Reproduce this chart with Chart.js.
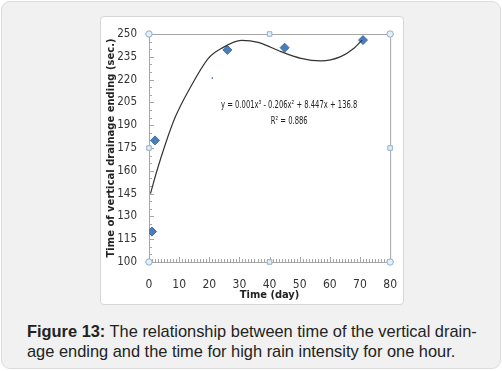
<!DOCTYPE html>
<html>
<head>
<meta charset="utf-8">
<title>Figure 13</title>
<script src="https://cdn.jsdelivr.net/npm/chart.js"></script>
<style>
  html, body { margin: 0; padding: 0; background: #fff; }
  #outer {
    position: absolute; left: 1px; top: 1px; width: 498px; height: 366px;
    background: #f1f1f1; border: 1px solid #dcdcdc; border-radius: 9px;
  }
  #panel {
    position: absolute; left: 98px; top: 14px; width: 302px; height: 287px;
    background: #fff; border: 1px solid #d6d6d6; border-radius: 4px;
  }
  #chart { position: absolute; left: 0; top: 0; }
  #caption {
    position: absolute; left: 25px; top: 319px; width: 480px;
    font-family: "Liberation Sans", Arial, sans-serif; font-size: 16.4px;
    line-height: 20px; color: #222;
  }
</style>
</head>
<body>
<div id="outer">
  <div id="panel"><canvas id="chart" width="304" height="287"></canvas></div>
  <div id="caption"><b>Figure 13:</b> The relationship between time of the vertical drain-<br>age ending and the time for high rain intensity for one hour.</div>
</div>
<script>
// measured points (day, sec)
const days = [1, 2, 26, 45, 71];
const drainTimes = [120, 180, 239.5, 241, 246];

// stray dot in the source figure
const strayDot = [{ x: 21, y: 221 }];

// trend line
const trendX = [0.5, 2.7, 5.5, 8.75, 13.2, 19.7, 24.1, 30.7, 36.2, 43.8, 50.4, 57, 63.6, 68, 70.7];
const trendY = [145, 160.5, 178, 195.5, 213, 234, 240.6, 245.8, 244.5, 238.4, 234, 232.3, 235.1, 240.6, 246];

// selection handles around the plot frame
const handleX = [0, 40, 80, 80, 80, 40, 0, 0];
const handleY = [250, 250, 250, 175, 100, 100, 100, 175];
const handleStyle = ['circle', 'rect', 'circle', 'rect', 'circle', 'rect', 'circle', 'rect'];

const xTicks = [0, 10, 20, 30, 40, 50, 60, 70, 80];
const yTicks = [100, 115, 130, 145, 160, 175, 190, 205, 220, 235, 250];

const equation = 'y = 0.001x\u00B3 - 0.206x\u00B2 + 8.447x + 136.8';
const rSquared = 'R\u00B2 = 0.886';

const narrow = "'DejaVu Sans Condensed', 'Liberation Sans Narrow', Arial, sans-serif";

const framePlugin = {
  id: 'frame',
  beforeDatasetsDraw(chart) {
    const { ctx, chartArea: a, scales: { x, y } } = chart;
    ctx.save();
    ctx.strokeStyle = '#a6a6a6';
    ctx.lineWidth = 1;
    ctx.strokeRect(a.left + 0.5, a.top + 0.5, a.right - a.left, a.bottom - a.top);
    // inward tick marks
    ctx.beginPath();
    for (let v = 0; v <= 80; v++) {
      const px = Math.round(x.getPixelForValue(v)) + 0.5;
      const len = v % 10 === 0 ? 5 : 3;
      ctx.moveTo(px, a.bottom);
      ctx.lineTo(px, a.bottom - len);
    }
    for (let v = 100; v <= 250; v += 5) {
      const py = Math.round(y.getPixelForValue(v)) + 0.5;
      const len = v % 15 === 10 ? 5 : 3;
      ctx.moveTo(a.left, py);
      ctx.lineTo(a.left + len, py);
    }
    ctx.stroke();
    // trend line label, squeezed like the source
    ctx.fillStyle = '#222';
    ctx.font = '10.5px ' + narrow;
    ctx.textAlign = 'center';
    ctx.textBaseline = 'middle';
    const ex = x.getPixelForValue(46.5);
    ctx.translate(ex, 0);
    ctx.scale(0.72, 1);
    ctx.fillText(equation, 0, y.getPixelForValue(203));
    ctx.fillText(rSquared, 0, y.getPixelForValue(192.5));
    ctx.restore();
  }
};

new Chart(document.getElementById('chart'), {
  type: 'scatter',
  data: {
    datasets: [{
      label: 'Trend',
      data: trendX.map((v, i) => ({ x: v, y: trendY[i] })),
      showLine: true,
      borderColor: '#333',
      borderWidth: 1.2,
      tension: 0.4,
      cubicInterpolationMode: 'monotone',
      pointRadius: 0
    }, {
      label: 'Time of drainage',
      data: days.map((v, i) => ({ x: v, y: drainTimes[i] })),
      pointStyle: 'rectRot',
      pointRadius: 4.5,
      backgroundColor: '#4a7ebb',
      borderColor: '#3f6fa8',
      borderWidth: 1
    }, {
      label: 'Stray',
      data: strayDot,
      pointRadius: 0.8,
      backgroundColor: '#3355aa',
      borderWidth: 0
    }, {
      label: 'Handles',
      data: handleX.map((v, i) => ({ x: v, y: handleY[i] })),
      pointStyle: handleStyle,
      pointRadius: 3.2,
      backgroundColor: '#e4eef7',
      borderColor: '#8fb0cc',
      borderWidth: 1,
      clip: false
    }]
  },
  options: {
    responsive: false,
    animation: false,
    events: [],
    layout: { padding: { top: 17, right: 0, left: 0, bottom: 0 } },
    plugins: { legend: { display: false }, tooltip: { enabled: false } },
    scales: {
      x: {
        type: 'linear', min: 0, max: 80,
        afterBuildTicks: s => { s.ticks = xTicks.map(v => ({ value: v })); },
        afterFit: s => { s.height = 42; },
        grid: { display: false },
        border: { display: false },
        ticks: { color: '#333', padding: 8, font: { family: narrow, size: 12 } },
        title: { display: true, text: 'Time (day)', color: '#222', padding: { top: 0, bottom: 2 },
                 font: { family: narrow, size: 11, weight: 'bold' } }
      },
      y: {
        type: 'linear', min: 100, max: 250,
        afterBuildTicks: s => { s.ticks = yTicks.map(v => ({ value: v })); },
        afterFit: s => { s.width = 48; },
        grid: { display: false },
        border: { display: false },
        ticks: { color: '#333', padding: 4, font: { family: narrow, size: 11.5 } },
        title: { display: true, text: 'Time of vertical drainage ending (sec.)', color: '#222',
                 padding: { top: 4, bottom: 0 },
                 font: { family: "'DejaVu Sans', Arial, sans-serif", size: 10, weight: 'bold' } }
      }
    }
  },
  plugins: [framePlugin]
});
</script>
</body>
</html>
